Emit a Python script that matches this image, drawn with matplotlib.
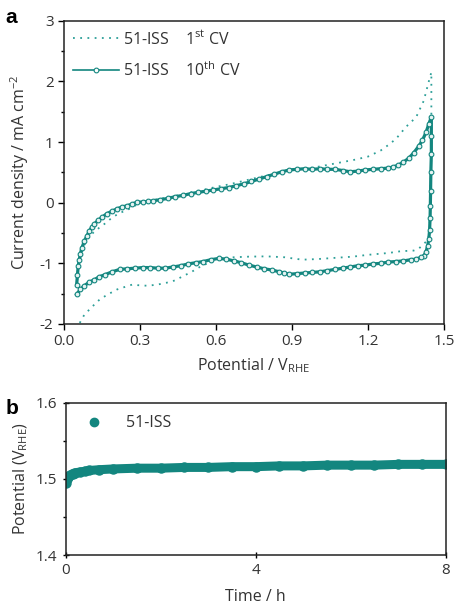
import matplotlib
matplotlib.use("Agg")
from matplotlib import pyplot as plt
from matplotlib.lines import Line2D

plt.rcParams['font.family'] = ['Open Sans', 'DejaVu Sans']
plt.rcParams['mathtext.default'] = 'regular'
plt.rcParams['axes.unicode_minus'] = False

# ---- dados painel a (CV) ----
# 10o ciclo: varredura anodica, queda no vertice, varredura catodica
cv10_E = [0.050, 0.053, 0.056, 0.060, 0.065, 0.070, 0.080, 0.090, 0.100, 0.110,
          0.120, 0.135, 0.150, 0.170, 0.190, 0.210, 0.230, 0.250, 0.270, 0.290,
          0.310, 0.330, 0.350, 0.380, 0.410, 0.440, 0.470, 0.500, 0.530, 0.560,
          0.590, 0.620, 0.650, 0.680, 0.710, 0.740, 0.770, 0.800, 0.830, 0.860,
          0.890, 0.920, 0.950, 0.980, 1.010, 1.040, 1.070, 1.100, 1.130, 1.160,
          1.190, 1.220, 1.250, 1.280, 1.300, 1.320, 1.340, 1.360, 1.380, 1.400,
          1.415, 1.430, 1.440, 1.450,
          1.450, 1.450, 1.448, 1.447, 1.446, 1.445, 1.443, 1.440, 1.435, 1.428,
          1.420,
          1.410, 1.390, 1.370, 1.340, 1.310, 1.280, 1.250, 1.220, 1.190, 1.160,
          1.130, 1.100, 1.070, 1.040, 1.010, 0.980, 0.950, 0.920, 0.890, 0.870,
          0.850, 0.820, 0.790, 0.760, 0.730, 0.700, 0.670, 0.640, 0.610, 0.580,
          0.550, 0.520, 0.490, 0.460, 0.430, 0.400, 0.370, 0.340, 0.310, 0.280,
          0.250, 0.220, 0.190, 0.160, 0.140, 0.120, 0.100, 0.080, 0.065, 0.050]
cv10_j = [-1.35, -1.20, -1.05, -0.95, -0.84, -0.75, -0.64, -0.55, -0.47, -0.40,
          -0.35, -0.29, -0.24, -0.18, -0.14, -0.10, -0.07, -0.05, -0.02, 0.01,
          0.01, 0.02, 0.03, 0.05, 0.07, 0.10, 0.12, 0.15, 0.17, 0.19,
          0.21, 0.23, 0.25, 0.28, 0.31, 0.35, 0.39, 0.43, 0.47, 0.51,
          0.54, 0.55, 0.56, 0.55, 0.56, 0.55, 0.55, 0.53, 0.51, 0.52,
          0.54, 0.55, 0.56, 0.57, 0.59, 0.62, 0.67, 0.73, 0.82, 0.93,
          1.03, 1.17, 1.30, 1.41,
          1.10, 0.80, 0.50, 0.20, -0.05, -0.25, -0.45, -0.60, -0.72, -0.82,
          -0.88,
          -0.90, -0.93, -0.94, -0.96, -0.97, -0.98, -1.00, -1.01, -1.03, -1.04,
          -1.06, -1.08, -1.10, -1.12, -1.14, -1.15, -1.16, -1.17, -1.18, -1.16,
          -1.14, -1.11, -1.09, -1.06, -1.03, -0.99, -0.96, -0.93, -0.92, -0.94,
          -0.97, -0.99, -1.01, -1.04, -1.06, -1.08, -1.08, -1.07, -1.07, -1.08,
          -1.09, -1.10, -1.14, -1.19, -1.22, -1.27, -1.31, -1.37, -1.43, -1.51]

# 1o ciclo
cv1_E = [0.050, 0.055, 0.060, 0.070, 0.080, 0.100, 0.120, 0.140, 0.160, 0.180,
         0.200, 0.220, 0.250, 0.280, 0.300, 0.350, 0.400, 0.450, 0.500, 0.550,
         0.600, 0.650, 0.700, 0.750, 0.800, 0.850, 0.900, 0.950, 1.000, 1.050,
         1.100, 1.150, 1.200, 1.250, 1.280, 1.310, 1.350, 1.390, 1.420, 1.440,
         1.450,
         1.450, 1.450, 1.448, 1.446, 1.443, 1.440, 1.430, 1.415, 1.400, 1.380,
         1.330, 1.280, 1.200, 1.140, 1.070, 1.000, 0.940, 0.870, 0.800, 0.730,
         0.670, 0.600, 0.540, 0.500, 0.470, 0.440, 0.405, 0.370, 0.330, 0.290,
         0.270, 0.240, 0.210, 0.170, 0.140, 0.110, 0.080, 0.060, 0.050]
cv1_j = [-1.40, -1.15, -0.98, -0.82, -0.70, -0.55, -0.48, -0.41, -0.35, -0.28,
         -0.22, -0.17, -0.12, -0.05, -0.01, 0.04, 0.08, 0.12, 0.17, 0.21,
         0.26, 0.30, 0.35, 0.40, 0.45, 0.49, 0.53, 0.56, 0.59, 0.63,
         0.67, 0.71, 0.76, 0.86, 0.95, 1.05, 1.25, 1.41, 1.68, 2.00,
         2.15,
         1.60, 1.00, 0.50, 0.00, -0.39, -0.55, -0.64, -0.70, -0.76, -0.79,
         -0.80, -0.83, -0.86, -0.89, -0.91, -0.93, -0.94, -0.90, -0.885, -0.89,
         -0.90, -0.94, -1.05, -1.15, -1.21, -1.28, -1.32, -1.35, -1.37, -1.36,
         -1.35, -1.39, -1.43, -1.52, -1.60, -1.72, -1.85, -2.00, -2.10]

# ---- dados painel b (cronopotenciometria) ----
tempo = [0, 0.02, 0.05, 0.1, 0.15, 0.2, 0.3, 0.4, 0.5, 0.7, 1.0, 1.5, 2.0, 2.5,
         3.0, 3.5, 4.0, 4.5, 5.0, 5.5, 6.0, 6.5, 7.0, 7.5, 8.0]
potencial = [1.495, 1.500, 1.503, 1.505, 1.507, 1.508, 1.509, 1.510, 1.511, 1.512,
             1.513, 1.514, 1.514, 1.515, 1.515, 1.516, 1.516, 1.517, 1.517, 1.518,
             1.518, 1.518, 1.519, 1.519, 1.519]

cor = '#13867f'
cor_pont = '#2c9f98'
cinza = '#333333'
fs = 11.5      # rotulos
fs_tick = 11   # numeros dos eixos

fig = plt.figure(figsize=(4.57, 6.13), dpi=100)
graf1 = fig.add_axes([0.140, 0.4715, 0.8316, 0.4947])
graf2 = fig.add_axes([0.1438, 0.0946, 0.8315, 0.2485])

# painel a
graf1.plot(cv1_E, cv1_j, color=cor_pont, ls=(0, (1, 3)), lw=1.3)
graf1.plot(cv10_E, cv10_j, color=cor, lw=2.3, marker='o', ms=3.4, mfc='#e6f3f2',
           mew=0.8)
graf1.set_xlim(0, 1.5)
graf1.set_ylim(-2, 3)
graf1.set_xticks([0, 0.3, 0.6, 0.9, 1.2, 1.5])
graf1.set_xticklabels(['0.0', '0.3', '0.6', '0.9', '1.2', '1.5'])
graf1.set_yticks([-2, -1, 0, 1, 2, 3])
graf1.set_yticks([-1.5, -0.5, 0.5, 1.5, 2.5], minor=True)
graf1.tick_params(direction='out', length=4, width=1, labelsize=fs_tick, labelcolor=cinza)
graf1.tick_params(which='minor', direction='out', length=2.5, width=1)
graf1.set_xlabel('Potential / V$_{RHE}$', fontsize=fs, color=cinza, labelpad=5)
graf1.set_ylabel('Current density / mA cm$^{-2}$', fontsize=fs, color=cinza, labelpad=6)
h1 = Line2D([], [], color=cor_pont, ls=(0, (1, 3)), lw=1.3)
h2 = Line2D([], [], color=cor, lw=1.2, marker='o', ms=3.4, mfc='white', mew=0.8)
graf1.legend([h1, h2], ['51-ISS    1$^{st}$ CV', '51-ISS    10$^{th}$ CV'],
             loc='upper left', frameon=False, fontsize=fs, handlelength=2.9,
             handletextpad=0.25, labelspacing=0.85, numpoints=1,
             borderaxespad=0.15, labelcolor=cinza)

# painel b
graf2.plot(tempo, potencial, color=cor, lw=6.5, marker='o', ms=6.5,
           solid_capstyle='round')
graf2.set_xlim(0, 8)
graf2.set_ylim(1.4, 1.6)
graf2.set_xticks([0, 4, 8])
graf2.set_yticks([1.4, 1.5, 1.6])
graf2.set_yticks([1.45, 1.55], minor=True)
graf2.tick_params(direction='inout', length=5, width=1, labelsize=fs_tick, labelcolor=cinza)
graf2.tick_params(which='minor', direction='out', length=2.5, width=1)
graf2.set_xlabel('Time / h', fontsize=fs, color=cinza, labelpad=8)
graf2.set_ylabel('Potential (V$_{RHE}$)', fontsize=fs, color=cinza, labelpad=4)
marca = Line2D([], [], color=cor, ls='none', marker='o', ms=6)
graf2.legend([marca], ['51-ISS'], loc='upper left', frameon=False, fontsize=fs,
             handletextpad=1.0, borderaxespad=0.4, labelcolor=cinza)

for ax in (graf1, graf2):
    for s in ax.spines.values():
        s.set_linewidth(1.1)
        s.set_color('#222222')

fig.text(0.012, 0.972, 'a', fontsize=15, fontweight='bold', family='Liberation Sans', va='center')
fig.text(0.012, 0.333, 'b', fontsize=15, fontweight='bold', family='Liberation Sans', va='center')

fig.savefig('out.png', dpi=100)
